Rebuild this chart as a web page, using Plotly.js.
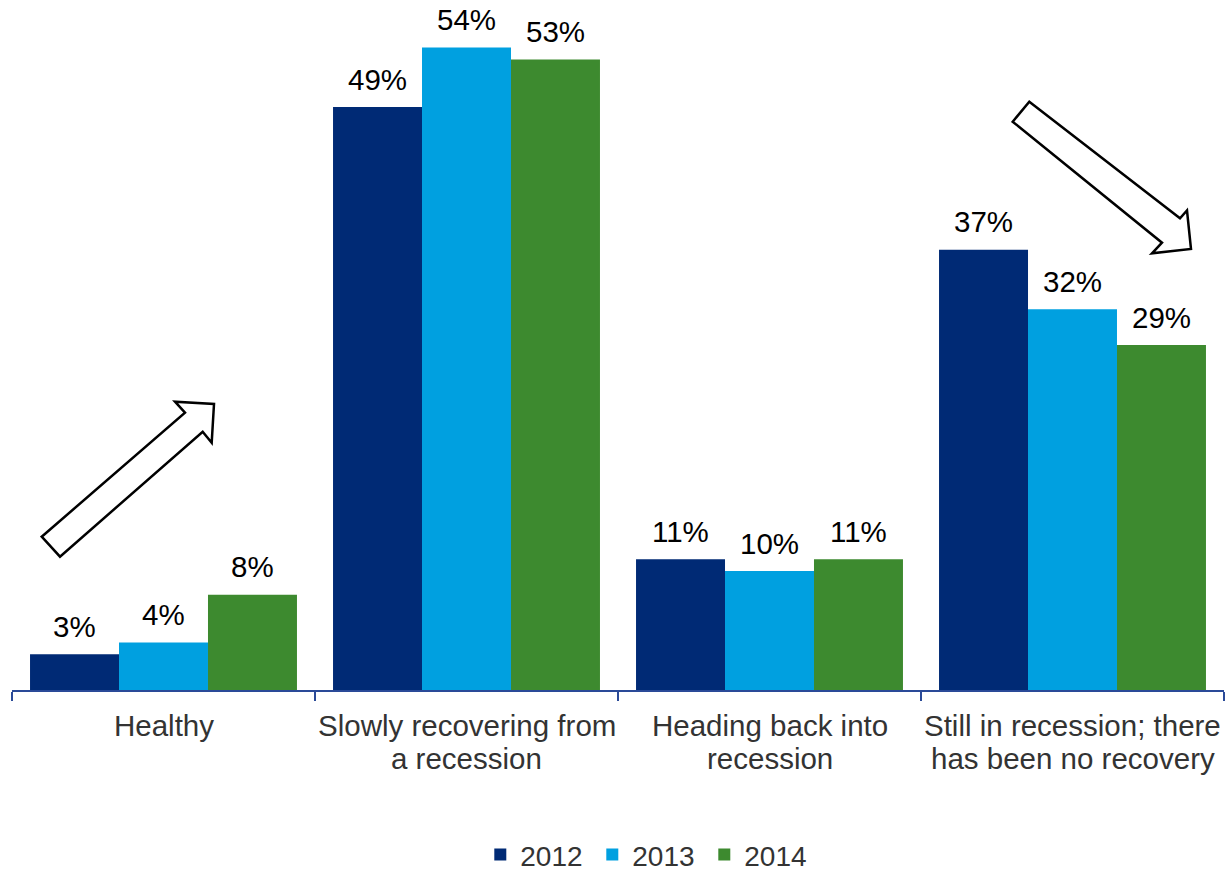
<!DOCTYPE html>
<html>
<head>
<meta charset="utf-8">
<script src="https://cdn.plot.ly/plotly-3.0.1.min.js"></script>
<style>
  html, body { margin: 0; padding: 0; background: #ffffff; }
  #chart { width: 1226px; height: 871px; }
</style>
</head>
<body>
<div id="chart"></div>
<script>
// Survey answers: how respondents describe the state of the economy
const categories = [
  'Healthy',
  'Slowly recovering from a recession',
  'Heading back into recession',
  'Still in recession; there has been no recovery'
];
// axis label lines for each category
const categoryLines = [
  ['Healthy'],
  ['Slowly recovering from', 'a recession'],
  ['Heading back into', 'recession'],
  ['Still in recession; there', 'has been no recovery']
];
const years = ['2012', '2013', '2014'];
const values2012 = [3, 49, 11, 37];
const values2013 = [4, 54, 10, 32];
const values2014 = [8, 53, 11, 29];
const seriesValues = [values2012, values2013, values2014];
const seriesColors = ['#002a75', '#00a0e0', '#3d8a2f'];

const FONT = 'Liberation Sans, Arial, sans-serif';
const W = 1226, H = 871;
const margin = { l: 12, r: 2, t: 0, b: 181, pad: 0, autoexpand: false };
const plotW = W - margin.l - margin.r;
const plotH = H - margin.t - margin.b;
const BARGAP = 0.119;
// width of one bar in pixels, used to centre value labels over their bars
const barPx = plotW / categories.length * (1 - BARGAP) / years.length;

// pixel position -> paper coordinates for the decorative trend arrows
function px(x) { return (x - margin.l) / plotW; }
function py(y) { return (H - margin.b - y) / plotH; }
function arrowPath(pts) {
  return 'M' + pts.map(p => px(p[0]).toFixed(5) + ',' + py(p[1]).toFixed(5)).join(' L') + ' Z';
}

const upArrow = [[41.7, 536.7], [185, 412.7], [175, 401.7], [214, 404],
                 [211.7, 442.7], [202.7, 431.7], [60, 556.7]];
const downArrow = [[1029.3, 101.7], [1180, 218.3], [1187, 210.5], [1191, 249],
                   [1152, 253.3], [1162, 242.7], [1012.7, 121.7]];

const traces = years.map((yr, i) => ({
  type: 'bar',
  name: yr,
  x: categories,
  y: seriesValues[i],
  marker: { color: seriesColors[i], line: { width: 0 } },
  hoverinfo: 'skip'
}));

const annotations = [];

// value labels above each bar
years.forEach((yr, si) => {
  seriesValues[si].forEach((v, ci) => {
    annotations.push({
      xref: 'x',
      yref: 'y',
      x: categories[ci],
      y: v,
      xshift: (si - (years.length - 1) / 2) * barPx,
      yshift: 28,
      yanchor: 'middle',
      text: v + '%',
      showarrow: false,
      font: { family: FONT, size: 29.5, color: '#000000' }
    });
  });
});

// category labels under the axis, one annotation per line (tight line spacing)
categoryLines.forEach((lines, ci) => {
  lines.forEach((line, li) => {
    annotations.push({
      xref: 'x',
      yref: 'paper',
      x: categories[ci],
      y: 0,
      yanchor: 'middle',
      yshift: -35 - li * 33,
      text: line,
      showarrow: false,
      font: { family: FONT, size: 29.5, color: '#333333' }
    });
  });
});

const layout = {
  width: W,
  height: H,
  margin: margin,
  paper_bgcolor: '#ffffff',
  plot_bgcolor: '#ffffff',
  font: { family: FONT, size: 28, color: '#333333' },
  barmode: 'group',
  bargap: BARGAP,
  bargroupgap: 0,
  showlegend: true,
  legend: {
    orientation: 'h',
    x: 0.525,
    xanchor: 'center',
    y: -0.239,
    yanchor: 'middle',
    entrywidth: 67,
    entrywidthmode: 'pixels',
    font: { family: FONT, size: 28, color: '#333333' },
    itemclick: false,
    traceorder: 'normal'
  },
  xaxis: {
    type: 'category',
    showline: true,
    linecolor: '#2a4a98',
    linewidth: 2,
    ticks: 'outside',
    tickson: 'boundaries',
    ticklen: 9,
    tickwidth: 2,
    tickcolor: '#2a4a98',
    showticklabels: false,
    showgrid: false,
    zeroline: false,
    fixedrange: true
  },
  yaxis: {
    range: [0, 58],
    visible: false,
    showgrid: false,
    zeroline: false,
    fixedrange: true
  },
  annotations: annotations,
  shapes: [upArrow, downArrow].map(a => ({
    type: 'path',
    xref: 'paper',
    yref: 'paper',
    path: arrowPath(a),
    fillcolor: '#ffffff',
    line: { color: '#000000', width: 2.5 },
    layer: 'above'
  }))
};

Plotly.newPlot('chart', traces, layout, { displayModeBar: false, staticPlot: true });
</script>
</body>
</html>
